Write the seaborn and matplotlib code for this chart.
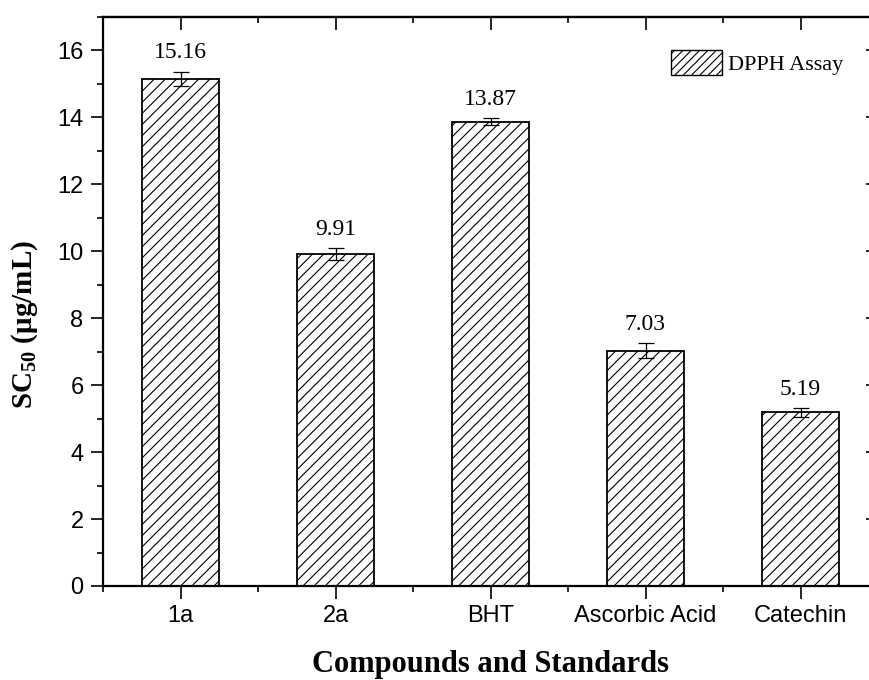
import matplotlib
matplotlib.use("Agg")
import matplotlib.pyplot as plt
import seaborn as sns
from matplotlib.patches import Patch
from matplotlib.ticker import MultipleLocator, FixedLocator

compounds = ['1a', '2a', 'BHT', 'Ascorbic Acid', 'Catechin']
sc50 = [15.16, 9.91, 13.87, 7.03, 5.19]
sc50_err = [0.21, 0.18, 0.10, 0.23, 0.13]

sns.set_style('ticks')
plt.rcParams['font.family'] = ['Liberation Sans', 'DejaVu Sans']
plt.rcParams['text.color'] = 'black'
plt.rcParams['axes.labelcolor'] = 'black'
plt.rcParams['xtick.color'] = 'black'
plt.rcParams['ytick.color'] = 'black'
plt.rcParams['hatch.linewidth'] = 0.8
plt.rcParams['mathtext.fontset'] = 'custom'
plt.rcParams['mathtext.rm'] = 'Liberation Serif:bold'
plt.rcParams['mathtext.bf'] = 'Liberation Serif:bold'

fig = plt.figure(figsize=(8.69, 6.8), dpi=100)
ax = fig.add_axes([103 / 869, 1 - 586 / 680, 775 / 869, 569 / 680])

sns.barplot(x=compounds, y=sc50, color='white', edgecolor='black',
            hatch='///', width=0.5, linewidth=1.3, saturation=1, ax=ax)
ax.errorbar(range(len(compounds)), sc50, yerr=sc50_err, fmt='none',
            ecolor='black', elinewidth=0.9, capsize=6, capthick=0.9)

for i, (v, e) in enumerate(zip(sc50, sc50_err)):
    ax.text(i, v + e + 0.4, f'{v:.2f}', ha='center', va='baseline',
            fontsize=17, family='Liberation Serif')

ax.set_xlim(-0.5, 4.5)
ax.set_ylim(0, 17)
ax.yaxis.set_major_locator(MultipleLocator(2))
ax.yaxis.set_minor_locator(MultipleLocator(1))
ax.xaxis.set_minor_locator(FixedLocator([-0.5, 0.5, 1.5, 2.5, 3.5, 4.5]))

for s in ax.spines.values():
    s.set_visible(True)
    s.set_linewidth(1.6)
    s.set_color('black')

ax.tick_params(which='major', direction='out', length=9, width=1.2,
               labelsize=17, pad=5)
ax.tick_params(which='minor', direction='out', length=4.5, width=1.2)

# mirrored ticks on top / right point inward
top = ax.secondary_xaxis('top')
top.set_xticks(range(len(compounds)))
top.xaxis.set_minor_locator(FixedLocator([0.5, 1.5, 2.5, 3.5]))
top.tick_params(which='major', direction='in', length=9, width=1.2, labeltop=False)
top.tick_params(which='minor', direction='in', length=4.5, width=1.2)
top.spines['top'].set_linewidth(1.6)
right = ax.secondary_yaxis('right')
right.yaxis.set_major_locator(MultipleLocator(2))
right.yaxis.set_minor_locator(MultipleLocator(1))
right.tick_params(which='major', direction='in', length=9, width=1.2, labelright=False)
right.tick_params(which='minor', direction='in', length=4.5, width=1.2)

ax.set_xlabel('Compounds and Standards', fontsize=22, fontweight='bold',
              family='Liberation Serif', labelpad=16)
ax.set_ylabel(r'SC$_{50}$ (μg/mL)', fontsize=21, fontweight='bold',
              family='Liberation Serif')
ax.yaxis.set_label_coords(-0.081, 0.459)

handle = Patch(facecolor='white', edgecolor='black', hatch='////', linewidth=1.0)
ax.legend([handle], ['DPPH Assay'], loc='upper right', frameon=False,
          bbox_to_anchor=(0.967, 0.957), prop={'family': 'Liberation Serif', 'size': 16},
          handlelength=2.3, handleheight=1.3, handletextpad=0.3, borderaxespad=0)

fig.savefig('out.png', dpi=100)
